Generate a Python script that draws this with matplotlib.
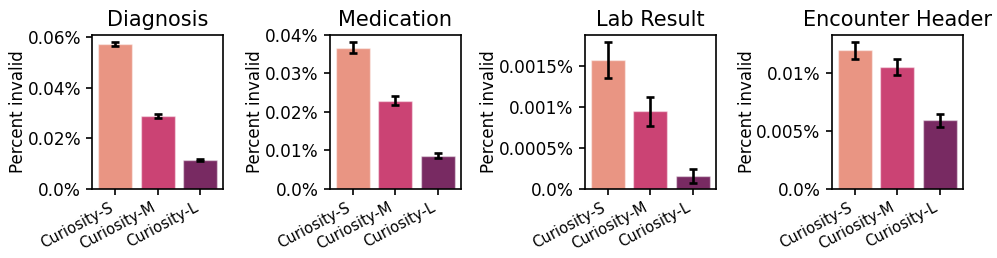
import matplotlib
matplotlib.use("Agg")
import matplotlib.pyplot as plt
import matplotlib.transforms as mtransforms
from matplotlib.ticker import FuncFormatter, MultipleLocator

# --------------------------------------------------
# Data (percent invalid, with error bar half-widths)
# --------------------------------------------------

models = ["Curiosity-S", "Curiosity-M", "Curiosity-L"]

titles = ["Diagnosis", "Medication", "Lab Result", "Encounter Header"]

diagnosis = [0.0573, 0.0287, 0.0112]
diagnosis_err = [0.0008, 0.0007, 0.0004]

medication = [0.0367, 0.0229, 0.0086]
medication_err = [0.00145, 0.0011, 0.0006]

lab_result = [0.00158, 0.00095, 0.000156]
lab_result_err = [0.00022, 0.00018, 0.00008]

encounter = [0.01193, 0.01052, 0.00589]
encounter_err = [0.00072, 0.0007, 0.00055]

colors = ["#e99583", "#cb4374", "#782a62"]

# y tick spacing per panel
tick_steps = [0.02, 0.01, 0.0005, 0.005]

# --------------------------------------------------
# Figure
# --------------------------------------------------

plt.rcParams["font.family"] = "DejaVu Sans"

fig = plt.figure(figsize=(9.97, 2.58), dpi=100)

lefts = [0.0926, 0.3307, 0.5865, 0.8342]
bottom = 0.2686
width = 0.1314
height = 0.5969

series = [
    (diagnosis, diagnosis_err),
    (medication, medication_err),
    (lab_result, lab_result_err),
    (encounter, encounter_err),
]

pct = FuncFormatter(lambda v, pos: f"{round(v, 6)}%")

for left, title, step, (vals, errs) in zip(lefts, titles, tick_steps, series):
    ax = fig.add_axes([left, bottom, width, height])

    x = range(len(models))
    ax.bar(
        x,
        vals,
        width=0.8,
        color=colors,
        edgecolor=(1, 1, 1, 0.45),
        linewidth=1.0,
    )
    ax.errorbar(
        x,
        vals,
        yerr=errs,
        fmt="none",
        ecolor="black",
        elinewidth=1.9,
        capsize=3,
        capthick=1.9,
    )

    ax.set_xlim(-0.54, 2.54)
    ax.margins(y=0.05)
    ax.yaxis.set_major_locator(MultipleLocator(step))
    ax.yaxis.set_major_formatter(pct)

    ax.set_title(title, fontsize=15)
    ax.set_ylabel("Percent invalid", fontsize=12, labelpad=0.5)

    ax.set_xticks(list(x))
    ax.set_xticklabels(models, rotation=28, ha="right", fontsize=10.6)
    offset = mtransforms.ScaledTranslation(0.16, -0.03, fig.dpi_scale_trans)
    for lab in ax.get_xticklabels():
        lab.set_transform(lab.get_transform() + offset)

    ax.tick_params(axis="y", labelsize=12.2, length=4.5, width=1.2)
    ax.tick_params(axis="x", length=4.5, width=1.2)

    for sp in ax.spines.values():
        sp.set_linewidth(1.2)

plt.savefig("out.png", dpi=100)
plt.close()
